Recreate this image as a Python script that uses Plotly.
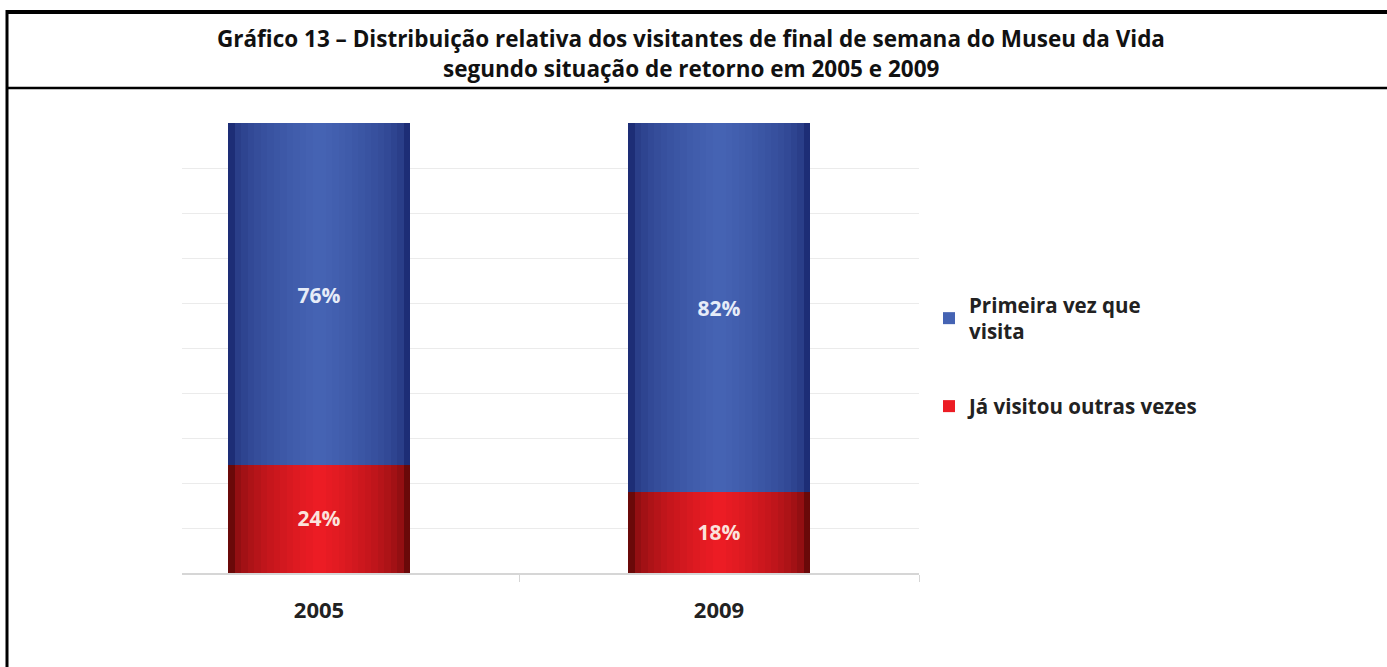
import plotly.graph_objects as go

# ---- data ----
years = ["2005", "2009"]
first_visit = [76, 82]          # Primeira vez que visita
returning = [24, 18]            # Já visitou outras vezes
series_names = ["Primeira vez que<br>visita", "Já visitou outras vezes"]
title_lines = ["Gráfico 13 – Distribuição relativa dos visitantes de final de semana do Museu da Vida",
               "segundo situação de retorno em 2005 e 2009"]

# ---- geometry (pixels) ----
W, H = 1387, 667
PL, PR, PT, PB = 182, 919, 123, 573
xpos = list(range(len(years)))
FONT = "Open Sans"


def px(x):
    return (x - PL) / (PR - PL)


def py(y):
    return (PB - y) / (PB - PT)


def mix(c1, c2, t):
    c1 = [int(c1[i:i + 2], 16) for i in (1, 3, 5)]
    c2 = [int(c2[i:i + 2], 16) for i in (1, 3, 5)]
    return "#%02x%02x%02x" % tuple(round(a + (b - a) * t) for a, b in zip(c1, c2))


BAR_W = 0.455
N = 14
blue_edge, blue_mid = "#1d2d76", "#4563b3"
red_edge, red_mid = "#6a0909", "#ec1c24"

fig = go.Figure()

series = [
    (series_names[0], first_visit, returning, blue_edge, blue_mid, 1),
    (series_names[1], returning, [0] * len(returning), red_edge, red_mid, 2),
]
for name, vals, base, c_edge, c_mid, rank in series:
    for k in range(N):
        t = (k / (N - 1)) ** 0.45
        fig.add_trace(go.Bar(
            x=xpos, y=vals, base=base,
            width=BAR_W * (1 - k / N),
            marker=dict(color=mix(c_edge, c_mid, t), line=dict(width=0)),
            name=name, legendgroup=name, legendrank=rank,
            showlegend=(k == N - 1), hoverinfo="skip",
        ))

# value labels
lab_x, lab_y, lab_t, lab_c = [], [], [], []
for i in xpos:
    lab_x += [i, i]
    lab_y += [returning[i] + first_visit[i] / 2 - 0.8, returning[i] / 2 - 0.4]
    lab_t += [f"{first_visit[i]}%", f"{returning[i]}%"]
    lab_c += ["#e6ecf8", "#fbe3dc"]
fig.add_trace(go.Scatter(
    x=lab_x, y=lab_y, text=lab_t, mode="text",
    textfont=dict(family=FONT, size=21, color=lab_c, weight="bold"),
    showlegend=False, hoverinfo="skip",
))

frame = dict(type="line", xref="paper", yref="paper")
shapes = [
    dict(frame, x0=px(6), x1=px(W), y0=py(12), y1=py(12), line=dict(color="black", width=4)),
    dict(frame, x0=px(6), x1=px(W), y0=py(88), y1=py(88), line=dict(color="black", width=2.5)),
    dict(frame, x0=px(7), x1=px(7), y0=py(10), y1=py(H + 5), line=dict(color="black", width=3)),
]

annotations = [
    dict(text=title_lines[0], xref="paper", yref="paper", x=px(691), y=py(38),
         xanchor="center", yanchor="middle", showarrow=False,
         font=dict(family=FONT, size=22.5, color="#111111", weight="bold")),
    dict(text=title_lines[1], xref="paper", yref="paper", x=px(691), y=py(68),
         xanchor="center", yanchor="middle", showarrow=False,
         font=dict(family=FONT, size=22.5, color="#111111", weight="bold")),
]

fig.update_layout(
    width=W, height=H,
    margin=dict(l=PL, r=W - PR, t=PT, b=H - PB),
    paper_bgcolor="white", plot_bgcolor="white",
    barmode="overlay",
    bargap=0,
    xaxis=dict(
        range=[-0.3425, 1.5], tickvals=xpos, ticktext=years,
        showgrid=False, zeroline=False,
        showline=True, linecolor="#d6d6d6", linewidth=2,
        ticks="", ticklabelstandoff=17,
        tickfont=dict(family=FONT, size=22, color="#222222", weight="bold"),
        minor=dict(tickvals=[0.5, 1.5], ticks="outside", ticklen=7, tickcolor="#d6d6d6", tickwidth=1),
    ),
    yaxis=dict(
        range=[0, 100], dtick=10, showticklabels=False,
        showgrid=True, gridcolor="#ebebeb", gridwidth=1, zeroline=False,
    ),
    legend=dict(
        x=px(929), xanchor="left", y=py(285), yanchor="top",
        font=dict(family=FONT, size=20.5, color="#222222", weight="bold"),
        tracegroupgap=45, traceorder="grouped", bgcolor="rgba(0,0,0,0)",
        itemclick=False, itemdoubleclick=False,
    ),
    shapes=shapes,
    annotations=annotations,
    showlegend=True,
)

fig.write_html("out.html", config={"displayModeBar": False},
               post_script="document.body.style.margin='0';document.body.style.overflow='hidden';")
